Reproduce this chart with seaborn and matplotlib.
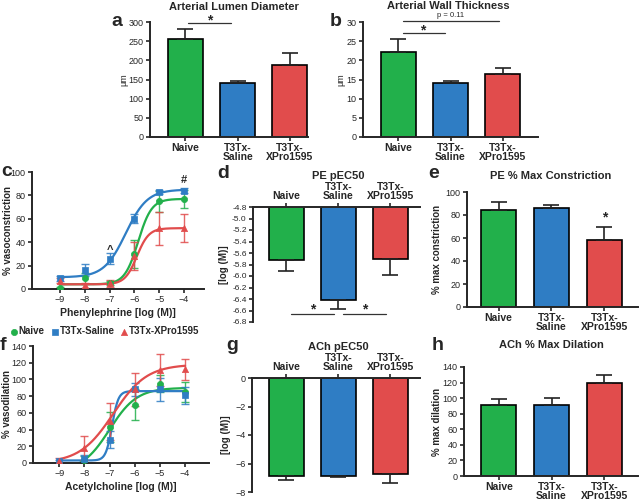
import matplotlib
matplotlib.use('Agg')
import matplotlib.pyplot as plt
import seaborn as sns
import numpy as np
import pandas as pd

# groups and colours
groups = ['Naive', 'T3Tx-\nSaline', 'T3Tx-\nXPro1595']
series = ['Naive', 'T3Tx-Saline', 'T3Tx-XPro1595']
colors = ['#22b04b', '#2f7dc4', '#e14c4c']

# bar panels (mean, SEM)
lumen_mean = [255, 140, 188]
lumen_err = [27, 5, 30]
wall_mean = [22.3, 14.1, 16.4]
wall_err = [3.2, 0.6, 1.6]
pe_ec50_mean = [-5.73, -6.42, -5.70]
pe_ec50_err = [0.19, 0.15, 0.29]
pe_max_mean = [84, 86, 58]
pe_max_err = [7, 3, 12]
ach_ec50_mean = [-6.85, -6.85, -6.75]
ach_ec50_err = [0.30, 0.10, 0.60]
ach_max_mean = [91, 91, 119]
ach_max_err = [8, 9, 11]

# dose-response points
log_dose = [-9, -8, -7, -6, -5, -4]
pe_naive = [1, 9, 5, 30, 75, 77]
pe_naive_err = [1, 5, 2, 12, 9, 8]
pe_saline = [9, 16, 26, 60, 83, 84]
pe_saline_err = [2, 5, 5, 4, 2, 2]
pe_xpro = [7, 3, 5, 28, 52, 52]
pe_xpro_err = [2, 2, 3, 12, 14, 12]

ach_naive = [None, 4, 43, 70, 95, 85]
ach_naive_err = [0, 4, 18, 18, 10, 12]
ach_saline = [2, 5, 28, 88, 88, 81]
ach_saline_err = [2, 5, 10, 8, 14, 10]
ach_xpro = [2, 18, 50, 88, 111, 112]
ach_xpro_err = [4, 14, 22, 20, 19, 13]

# fitted curves: bottom, top, logEC50, hill slope
pe_fit_naive = [4, 77, -5.85, 1.6]
pe_fit_saline = [10, 85, -6.35, 1.0]
pe_fit_xpro = [4, 52, -5.9, 1.8]
ach_fit_naive = [-10, 90, -7.0, 0.8]
ach_fit_saline = [3, 86, -6.9, 3.5]
ach_fit_xpro = [0, 118, -6.85, 0.65]

sns.set_style('ticks')
plt.rcParams['font.family'] = ['Liberation Sans', 'DejaVu Sans']
plt.rcParams['axes.linewidth'] = 1.4
plt.rcParams['xtick.major.width'] = 1.2
plt.rcParams['ytick.major.width'] = 1.2
plt.rcParams['xtick.major.size'] = 3
plt.rcParams['ytick.major.size'] = 3
plt.rcParams['xtick.major.pad'] = 1.5
plt.rcParams['ytick.major.pad'] = 1.5

W, H = 640, 501
fig = plt.figure(figsize=(6.4, 5.01), dpi=100)


def px_axes(left, top, right, bottom):
    return fig.add_axes([left / W, 1 - bottom / H, (right - left) / W, (bottom - top) / H])


def px_text(x, y, s, **kw):
    fig.text(x / W, 1 - y / H, s, **kw)


def place_ylabel(ax, text, x_px, left_px, width_px, bold=True, size=7):
    ax.set_ylabel(text, fontsize=size, fontweight='bold' if bold else 'normal', va='center')
    ax.yaxis.set_label_coords((x_px - left_px) / width_px, 0.5)


def bar_panel(ax, means, errs, ylim, yticks, xlim, top_axis=False):
    df = pd.DataFrame({'group': groups, 'value': means})
    sns.barplot(data=df, x='group', y='value', hue='group', palette=colors,
                width=0.67, edgecolor='black', linewidth=1.2, errorbar=None,
                legend=False, saturation=1, ax=ax)
    z = np.zeros(len(means))
    yerr = [errs, z] if top_axis else [z, errs]
    ax.errorbar(np.arange(len(means)), means, yerr=yerr, fmt='none',
                ecolor='#222222', elinewidth=1.2, capsize=6, capthick=1.2)
    ax.set_xlim(*xlim)
    ax.set_ylim(*ylim)
    ax.set_yticks(yticks)
    ax.set_xlabel('')
    ax.set_ylabel('')
    ax.tick_params(axis='y', labelsize=6.5)
    ax.tick_params(axis='x', labelsize=7.5)
    if top_axis:
        ax.xaxis.tick_top()
        ax.spines['bottom'].set_visible(False)
        ax.spines['right'].set_visible(False)
    else:
        sns.despine(ax=ax)
    for tick in ax.xaxis.get_major_ticks():
        for lab in (tick.label1, tick.label2):
            lab.set_fontweight('bold')
            lab.set_linespacing(0.85)


def curve_panel(ax, pts, errs, fits, xlim, ylim, yticks, xlabel):
    markers = ['o', 's', '^']
    xs = np.linspace(-9, -4, 300)
    for name, col, mk, y, e, p in zip(series, colors, markers, pts, errs, fits):
        b, t, ec, h = p
        fit = pd.DataFrame({'x': xs, 'y': b + (t - b) / (1 + 10 ** ((ec - xs) * h))})
        sns.lineplot(data=fit, x='x', y='y', color=col, linewidth=1.6, ax=ax)
        d = pd.DataFrame({'x': log_dose, 'y': y, 'e': e}).dropna()
        ax.errorbar(d['x'], d['y'], yerr=d['e'], fmt='none', ecolor=col,
                    elinewidth=1.0, capsize=3, capthick=1.0, alpha=0.85)
        sns.scatterplot(data=d, x='x', y='y', color=col, marker=mk, s=20,
                        edgecolor=col, linewidth=0.5, ax=ax, label=name, zorder=4)
    ax.set_xlim(*xlim)
    ax.set_ylim(*ylim)
    ax.set_xticks(log_dose)
    ax.set_yticks(yticks)
    ax.set_xlabel(xlabel, fontsize=7.5, fontweight='bold', labelpad=3)
    ax.tick_params(labelsize=6.5)
    sns.despine(ax=ax)


title_kw = dict(fontsize=8, fontweight='bold', ha='center', va='center')
letter_kw = dict(fontsize=14, fontweight='bold', ha='left', va='center')

# a
ax = px_axes(150, 22, 308, 137)
bar_panel(ax, lumen_mean, lumen_err, (0, 300), range(0, 301, 50), (-0.68, 2.35))
place_ylabel(ax, '\u03bcm', 124, 150, 158, bold=False, size=6.5)
ax.plot([0.05, 0.88], [297, 297], color='#333333', lw=0.9, clip_on=False)
ax.text(0.46, 305, '*', fontsize=10, fontweight='bold', ha='center', va='center')
px_text(234, 7, 'Arterial Lumen Diameter', **title_kw)
px_text(111, 22, 'a', **letter_kw)

# b
ax = px_axes(363, 22, 538, 137)
bar_panel(ax, wall_mean, wall_err, (0, 30), range(0, 31, 5), (-0.68, 2.68))
place_ylabel(ax, '\u03bcm', 341, 363, 175, bold=False, size=6.5)
ax.plot([0.09, 0.89], [27.1, 27.1], color='#333333', lw=0.9, clip_on=False)
ax.text(0.47, 27.9, '*', fontsize=10, fontweight='bold', ha='center', va='center')
ax.plot([0.09, 1.93], [30.2, 30.2], color='#333333', lw=0.9, clip_on=False)
ax.text(1.0, 31.7, 'p = 0.11', fontsize=5.5, ha='center', va='center')
px_text(448, 6, 'Arterial Wall Thickness', **title_kw)
px_text(330, 22, 'b', **letter_kw)

# c
ax = px_axes(32, 172, 204, 289)
curve_panel(ax, [pe_naive, pe_saline, pe_xpro],
            [pe_naive_err, pe_saline_err, pe_xpro_err],
            [pe_fit_naive, pe_fit_saline, pe_fit_xpro],
            (-10.12, -3.2), (0, 100), range(0, 101, 20),
            'Phenylephrine [log (M)]')
place_ylabel(ax, '% vasoconstriction', 8, 32, 172)
ax.text(-7, 33, '^', fontsize=8, fontweight='bold', ha='center', va='center')
ax.text(-4, 93, '#', fontsize=8, fontweight='bold', ha='center', va='center')
ax.legend(loc='center', bbox_to_anchor=(0.42, -0.36), ncol=3, frameon=False,
          handletextpad=0.0, columnspacing=0.5, handlelength=1.0,
          borderaxespad=0, prop={'size': 7, 'weight': 'bold'})
px_text(1, 171, 'c', **letter_kw)

# d
ax = px_axes(253, 207, 420, 322)
d_ticks = np.round(np.arange(-6.8, -4.79, 0.2), 1)
bar_panel(ax, pe_ec50_mean, pe_ec50_err, (-6.8, -4.8), d_ticks, (-0.64, 2.57), top_axis=True)
ax.set_yticklabels([f'{v:.1f}' for v in d_ticks])
ax.tick_params(axis='y', labelsize=6)
place_ylabel(ax, '[log (M)]', 224, 253, 167)
ax.plot([0.1, 0.91], [-6.655, -6.655], color='#333333', lw=0.9, clip_on=False)
ax.text(0.5, -6.58, '*', fontsize=10, fontweight='bold', ha='center', va='center')
ax.plot([1.09, 1.91], [-6.655, -6.655], color='#333333', lw=0.9, clip_on=False)
ax.text(1.5, -6.58, '*', fontsize=10, fontweight='bold', ha='center', va='center')
px_text(338, 176, 'PE pEC50', **title_kw)
px_text(217, 173, 'd', **letter_kw)

# e
ax = px_axes(467, 192, 638, 307)
bar_panel(ax, pe_max_mean, pe_max_err, (0, 100), range(0, 101, 20), (-0.6, 2.64))
place_ylabel(ax, '% max constriction', 437, 467, 171)
ax.text(2, 78, '*', fontsize=10, fontweight='bold', ha='center', va='center')
px_text(551, 176, 'PE % Max Constriction', **title_kw)
px_text(428, 173, 'e', **letter_kw)

# f
ax = px_axes(33, 346, 209, 463)
curve_panel(ax, [ach_naive, ach_saline, ach_xpro],
            [ach_naive_err, ach_saline_err, ach_xpro_err],
            [ach_fit_naive, ach_fit_saline, ach_fit_xpro],
            (-10.04, -3.05), (0, 140), range(0, 141, 20),
            'Acetylcholine [log (M)]')
place_ylabel(ax, '% vasodilation', 7, 33, 176)
ax.get_legend().remove()
px_text(0, 346, 'f', **letter_kw)

# g
ax = px_axes(252, 378, 420, 492)
bar_panel(ax, ach_ec50_mean, ach_ec50_err, (-8, 0), range(-8, 1, 2), (-0.66, 2.57),
          top_axis=True)
place_ylabel(ax, '[log (M)]', 226, 252, 168)
px_text(338, 347, 'ACh pEC50', **title_kw)
px_text(226, 345, 'g', **letter_kw)

# h
ax = px_axes(464, 367, 638, 476)
bar_panel(ax, ach_max_mean, ach_max_err, (0, 140), range(0, 141, 20), (-0.66, 2.64))
place_ylabel(ax, '% max dilation', 437, 464, 174)
px_text(551, 345, 'ACh % Max Dilation', **title_kw)
px_text(432, 345, 'h', **letter_kw)

fig.savefig('out.png', dpi=100)
